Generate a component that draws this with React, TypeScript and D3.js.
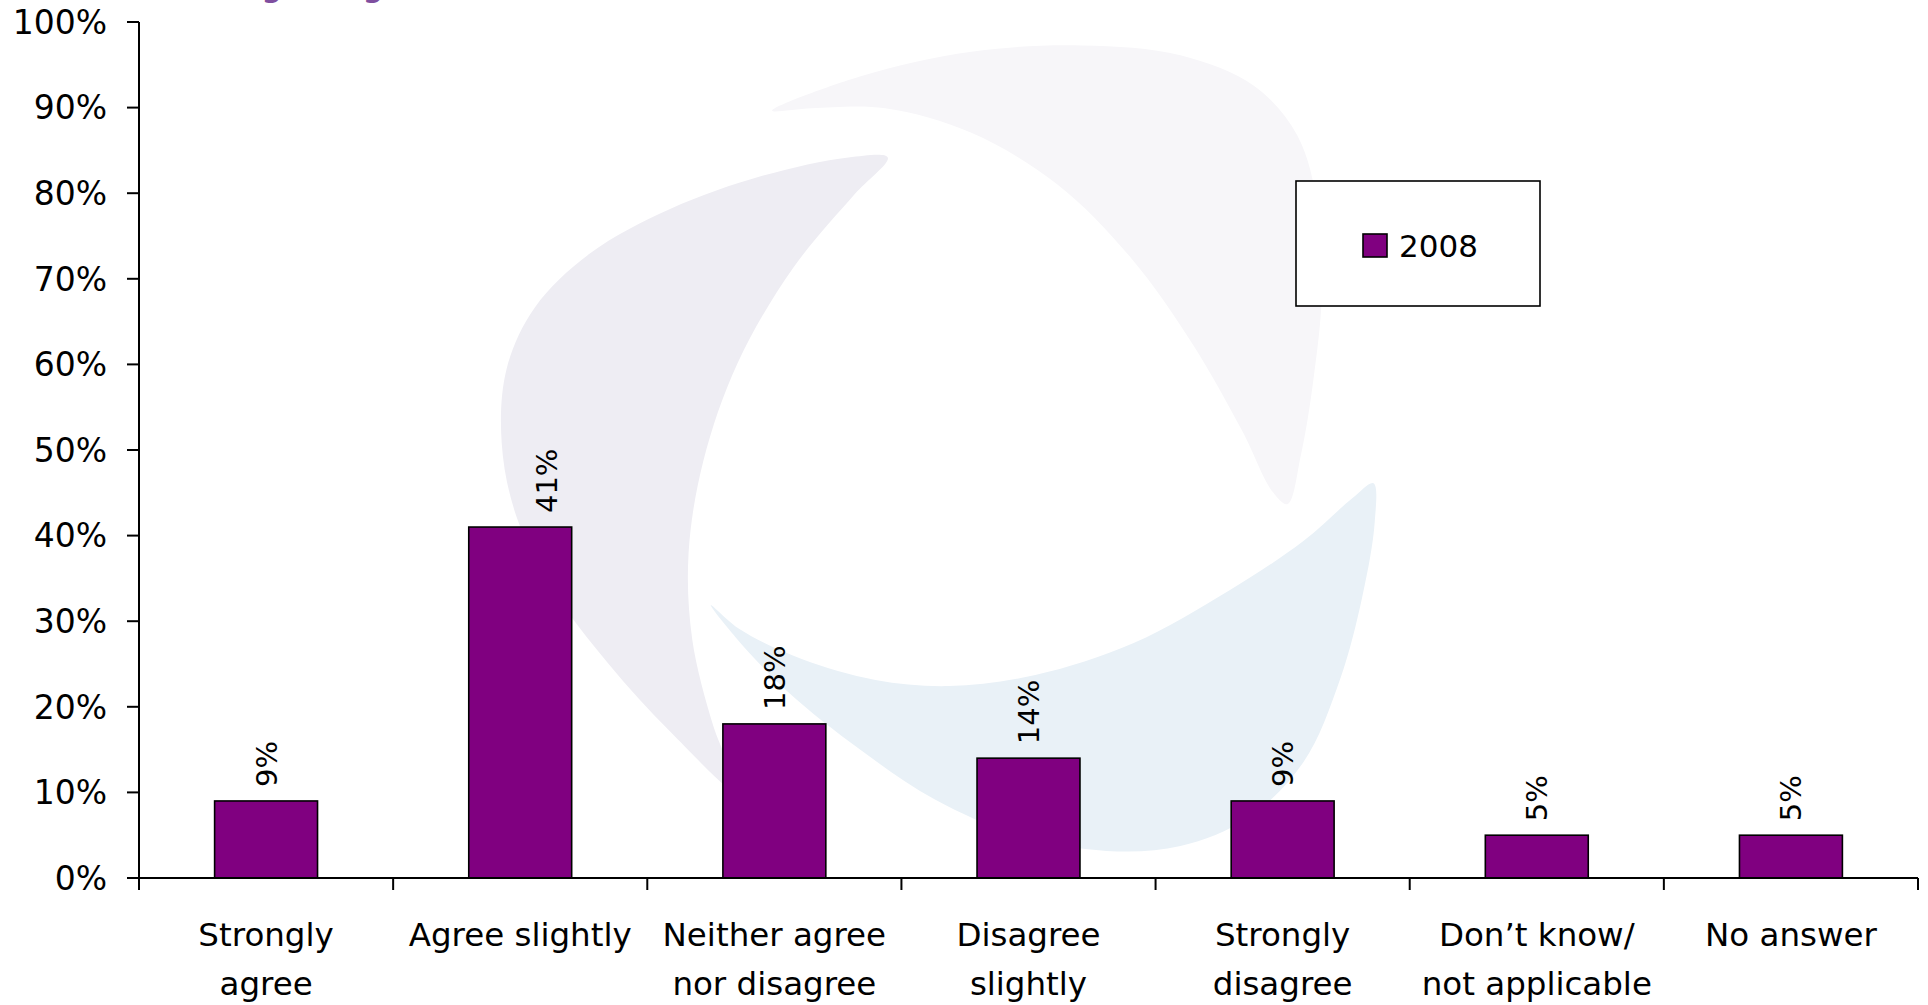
import React from "react";
import * as d3 from "d3";

const categories: string[][] = [
  ["Strongly", "agree"],
  ["Agree slightly"],
  ["Neither agree", "nor disagree"],
  ["Disagree", "slightly"],
  ["Strongly", "disagree"],
  ["Don\u2019t know/", "not applicable"],
  ["No answer"],
];
const values2008: number[] = [9, 41, 18, 14, 9, 5, 5];
const yTicks: number[] = [0, 10, 20, 30, 40, 50, 60, 70, 80, 90, 100];
const seriesName = "2008";
const titleText = "Agreeing";

const W = 1928;
const H = 1005;
const FONT = "'DejaVu Sans', Verdana, sans-serif";
const PURPLE = "#800080";
const labelNudge: Record<number, number> = { 1: 26 };

// decorative watermark blades (in 1568-wide reference space)
const bladeTop: [number, number][] = [
  [628, 90], [700, 62], [790, 42], [880, 37], [960, 45], [1020, 70], [1055, 110],
  [1072, 170], [1075, 240], [1068, 310], [1058, 370], [1047, 410], [1035, 400],
  [1010, 350], [970, 280], [920, 210], [860, 150], [790, 108], [720, 88], [660, 88],
];
const bladeLeft: [number, number][] = [
  [722, 128], [690, 128], [620, 143], [545, 170], [480, 206], [435, 250], [412, 300],
  [408, 360], [420, 420], [450, 480], [495, 540], [545, 595], [600, 645],
  [580, 590], [563, 520], [560, 450], [572, 375], [600, 295], [645, 218], [695, 158],
];
const bladeBottom: [number, number][] = [
  [1117, 393], [1118, 425], [1108, 485], [1090, 552], [1060, 620], [1015, 665],
  [960, 688], [900, 692], [830, 680], [760, 650], [700, 610], [640, 562], [598, 518],
  [578, 492], [602, 512], [652, 536], [712, 553], [772, 558], [842, 549], [922, 523],
  [1000, 480], [1060, 440], [1100, 405],
];

export default function App() {
  const x = d3
    .scaleBand<number>()
    .domain(d3.range(categories.length))
    .range([139, 1918])
    .paddingInner(0)
    .paddingOuter(0);
  const y = d3.scaleLinear().domain([0, 100]).range([878, 22]);
  const barW = x.bandwidth() * 0.405;
  const blade = d3.line().curve(d3.curveCatmullRomClosed.alpha(0.5));
  const boundaries = d3.range(categories.length + 1).map((i) =>
    i < categories.length ? (x(i) as number) : (x(i - 1) as number) + x.bandwidth()
  );

  return (
    <svg
      width={W}
      height={H}
      style={{ position: "absolute", left: 0, top: 0, display: "block", background: "#fff" }}
      fontFamily={FONT}
    >
      <rect x={0} y={0} width={W} height={H} fill="#ffffff" />
      <g transform={`scale(${W / 1568})`}>
        <path d={blade(bladeTop) || ""} fill="#F7F6F9" />
        <path d={blade(bladeLeft) || ""} fill="#EEEDF3" />
        <path d={blade(bladeBottom) || ""} fill="#E9F1F7" />
      </g>

      {/* cropped title: only descenders visible */}
      <text x={240} y={-3} fontSize={28} fontWeight="bold" fill="#7F4F9F">
        {titleText}
      </text>

      {/* bars */}
      {values2008.map((v, i) => {
        const cx = (x(i) as number) + x.bandwidth() / 2;
        return (
          <rect
            key={i}
            x={cx - barW / 2}
            y={y(v)}
            width={barW}
            height={y(0) - y(v)}
            fill={PURPLE}
            stroke="#000"
            strokeWidth={1.6}
          />
        );
      })}

      {/* value labels */}
      {values2008.map((v, i) => {
        const cx = (x(i) as number) + x.bandwidth() / 2 + (labelNudge[i] || 0);
        const ty = y(v) - 14;
        return (
          <text
            key={i}
            transform={`translate(${cx},${ty}) rotate(-90)`}
            dy="0.36em"
            fontSize={29}
            fill="#000"
            textAnchor="start"
          >
            {v}%
          </text>
        );
      })}

      {/* y axis */}
      <line x1={139} x2={139} y1={y(100)} y2={y(0)} stroke="#000" strokeWidth={2} />
      {yTicks.map((t) => (
        <g key={t}>
          <line x1={127} x2={139} y1={y(t)} y2={y(t)} stroke="#000" strokeWidth={2} />
          <text x={107} y={y(t)} dy="0.36em" fontSize={33} textAnchor="end" fill="#000">
            {t}%
          </text>
        </g>
      ))}

      {/* x axis */}
      <line x1={127} x2={1918} y1={y(0)} y2={y(0)} stroke="#000" strokeWidth={2} />
      {boundaries.map((bx, i) => (
        <line key={i} x1={bx} x2={bx} y1={y(0)} y2={y(0) + 12} stroke="#000" strokeWidth={2} />
      ))}
      {categories.map((lines, i) => {
        const cx = (x(i) as number) + x.bandwidth() / 2;
        return (
          <text key={i} x={cx} y={946} fontSize={32.5} textAnchor="middle" fill="#000">
            {lines.map((l, j) => (
              <tspan key={j} x={cx} y={946 + j * 49}>
                {l}
              </tspan>
            ))}
          </text>
        );
      })}

      {/* legend */}
      <rect x={1296} y={181} width={244} height={125} fill="#fff" stroke="#000" strokeWidth={1.6} />
      <rect x={1363} y={234} width={24} height={23} fill={PURPLE} stroke="#000" strokeWidth={1.6} />
      <text x={1399} y={257} fontSize={31} fill="#000">
        {seriesName}
      </text>
    </svg>
  );
}
